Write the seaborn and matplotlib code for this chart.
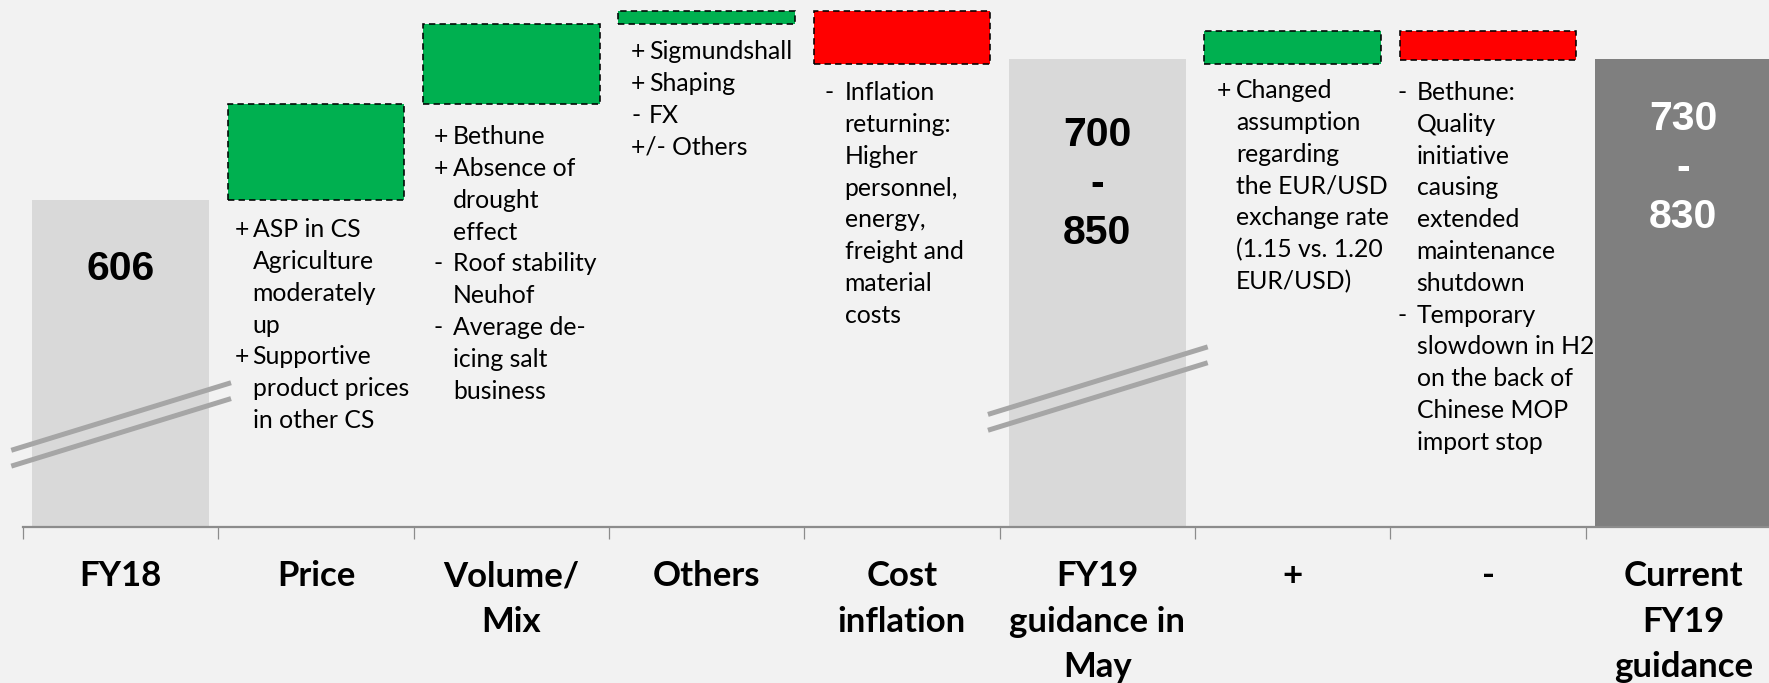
import numpy as np
import pandas as pd
import matplotlib
matplotlib.use("Agg")
import matplotlib.pyplot as plt
import seaborn as sns

# ---------------- data ----------------
categories = ["FY18", "Price", "Volume/\nMix", "Others", "Cost\ninflation",
              "FY19\nguidance in\nMay", "+", "-", "Current\nFY19\nguidance"]
kinds = ["total", "delta", "delta", "delta", "delta", "total", "delta", "delta", "total"]
start_value = 606
deltas = [0, 115, 96, 16, -64, 0, 40, -35, 0]
totals = [606, 0, 0, 0, 0, 775, 0, 0, 775]
total_labels = ["606", "700\n-\n850", "730\n-\n830"]

notes = {
    1: [("+", ["ASP in CS", "Agriculture", "moderately", "up"]),
        ("+", ["Supportive", "product prices", "in other CS"])],
    2: [("+", ["Bethune"]),
        ("+", ["Absence of", "drought", "effect"]),
        ("-", ["Roof stability", "Neuhof"]),
        ("-", ["Average de-", "icing salt", "business"])],
    3: [("+", ["Sigmundshall"]),
        ("+", ["Shaping"]),
        ("-", ["FX"]),
        ("+/-", ["Others"])],
    4: [("-", ["Inflation", "returning:", "Higher", "personnel,", "energy,",
               "freight and", "material", "costs"])],
    6: [("+", ["Changed", "assumption", "regarding", "the EUR/USD",
               "exchange rate", "(1.15 vs. 1.20", "EUR/USD)"])],
    7: [("-", ["Bethune:", "Quality", "initiative", "causing", "extended",
               "maintenance", "shutdown"]),
        ("-", ["Temporary", "slowdown in H2", "on the back of", "Chinese MOP",
               "import stop"])],
}

# ---------------- derived bars ----------------
bottoms, heights = [], []
level = start_value
for k, d, t in zip(kinds, deltas, totals):
    if k == "total":
        bottoms.append(0)
        heights.append(t)
    else:
        new = level + d
        bottoms.append(min(level, new))
        heights.append(abs(d))
        level = new

GREEN, RED = "#00B050", "#FF0000"
LIGHT, DARK = "#D9D9D9", "#7F7F7F"
colors = []
for i, (k, d) in enumerate(zip(kinds, deltas)):
    if k == "total":
        colors.append(DARK if i == len(kinds) - 1 else LIGHT)
    else:
        colors.append(GREEN if d > 0 else RED)

df = pd.DataFrame({"cat": categories, "height": heights})

# ---------------- figure ----------------
BG = "#F2F2F2"
W, H = 1769, 683
fig = plt.figure(figsize=(W / 100, H / 100), dpi=100, facecolor=BG)
ax = fig.add_axes([23 / W, (H - 527) / H, (1781 - 23) / W, 527 / H])
ax.set_facecolor(BG)

sns.barplot(data=df, x="cat", y="height", order=categories, bottom=bottoms,
            width=0.906, color=LIGHT, ax=ax, zorder=2)

for i, p in enumerate(ax.patches):
    p.set_facecolor(colors[i])
    if kinds[i] == "delta":
        p.set_edgecolor("black")
        p.set_linewidth(1.15)
        p.set_linestyle((0, (4, 2.6)))
    else:
        p.set_edgecolor("none")

ax.set_xlim(-0.5, len(categories) - 0.5)
ax.set_ylim(214, 846)

# axes styling
for s in ["left", "right", "top"]:
    ax.spines[s].set_visible(False)
ax.spines["bottom"].set_color("#8C8C8C")
ax.spines["bottom"].set_linewidth(1.6)
ax.spines["bottom"].set_zorder(5)
ax.set_yticks([])
ax.set_xlabel("")
ax.set_ylabel("")
ax.set_xticks(range(len(categories)))
ax.set_xticklabels(categories, fontfamily="Lato", fontweight="bold",
                   fontsize=25, linespacing=1.52)
ax.tick_params(axis="x", which="major", length=0, pad=24, colors="black")
ax.set_xticks(np.arange(-0.5, len(categories), 1.0), minor=True)
ax.tick_params(axis="x", which="minor", length=8.6, width=0.9, color="#8C8C8C")

# total labels
tot_idx = [i for i, k in enumerate(kinds) if k == "total"]
tot_offsets = [69, 125, 109]
tot_colors = ["black", "black", "white"]
for lab, i, off, c in zip(total_labels, tot_idx, tot_offsets, tot_colors):
    ax.annotate(lab, xy=(i, totals[i]), xytext=(0, -off), textcoords="offset pixels",
                ha="center", va="center", fontsize=29.5, fontweight="bold",
                family="Liberation Sans", color=c, linespacing=1.37, zorder=6)

# break marks
def break_mark(x, ymid):
    for dy in (-9.5, 9.5):
        ax.plot([x - 0.56, x + 0.565], [ymid + dy - 40.5, ymid + dy + 40.5],
                color="#A6A6A6", lw=3.6, solid_capstyle="butt", zorder=4,
                clip_on=False)

break_mark(0, 337)
break_mark(5, 380)

# annotation notes
prefix_dx = {1: 7, 2: 11, 3: 13, 4: 11, 6: 13, 7: -2}
text_dx = {1: 25, 2: 30, 3: 31, 4: 31, 6: 32, 7: 17}
first_dy = {1: 30, 2: 33, 3: 28, 4: 29, 6: 27, 7: 33}
LINE = 31.8
note_kw = dict(fontsize=17.8, family="Lato", color="black", va="baseline",
               textcoords="offset pixels", zorder=6)
for i, items in notes.items():
    left = i - 0.453
    box_bottom = bottoms[i]
    j = 0
    for prefix, lines in items:
        for n, line in enumerate(lines):
            dy = -(first_dy[i] + 7 + j * LINE)
            if n == 0:
                if prefix == "+/-":
                    ax.annotate(prefix + " " + line, xy=(left, box_bottom),
                                xytext=(prefix_dx[i], dy), ha="left", **note_kw)
                    j += 1
                    continue
                ax.annotate(prefix, xy=(left, box_bottom),
                            xytext=(prefix_dx[i], dy), ha="left", **note_kw)
            ax.annotate(line, xy=(left, box_bottom), xytext=(text_dx[i], dy),
                        ha="left", **note_kw)
            j += 1

fig.savefig("out.png", dpi=100, facecolor=BG)
